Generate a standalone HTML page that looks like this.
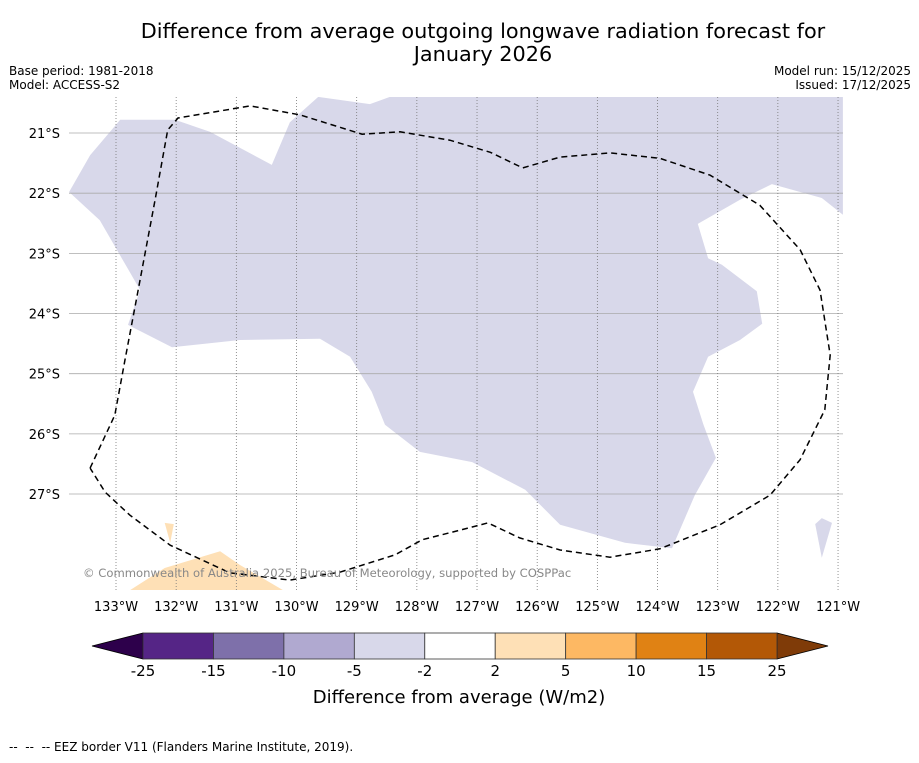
<!DOCTYPE html>
<html><head><meta charset="utf-8"><style>
body{margin:0;background:#fff;font-family:"Liberation Sans","DejaVu Sans",sans-serif}
</style></head><body>
<svg width="919" height="758" xmlns="http://www.w3.org/2000/svg" font-family="DejaVu Sans, Liberation Sans, sans-serif">
<rect width="919" height="758" fill="#fff"/>
<text x="483" y="38" font-size="20.8" text-anchor="middle">Difference from average outgoing longwave radiation forecast for</text>
<text x="483" y="61" font-size="20.8" text-anchor="middle">January 2026</text>
<text x="9" y="75" font-size="12">Base period: 1981-2018</text>
<text x="9" y="89" font-size="12">Model: ACCESS-S2</text>
<text x="911" y="75" font-size="12" text-anchor="end">Model run: 15/12/2025</text>
<text x="911" y="89" font-size="12" text-anchor="end">Issued: 17/12/2025</text>
<defs><clipPath id="mc"><rect x="69" y="97" width="774" height="493"/></clipPath></defs>
<g id="map" clip-path="url(#mc)"></g>
<g id="axes"></g>
<g id="cbar"></g>
<text x="459" y="703" font-size="18" text-anchor="middle">Difference from average (W/m2)</text>
<text x="9" y="751" font-size="12" xml:space="preserve">--  --  -- EEZ border V11 (Flanders Marine Institute, 2019).</text>
</svg>
<script>
const lonTicks=[-133,-132,-131,-130,-129,-128,-127,-126,-125,-124,-123,-122,-121];
const latTicks=[-21,-22,-23,-24,-25,-26,-27];
const negPoly=[[-133.78,-21.98],[-133.43,-21.37],[-132.93,-20.78],[-132.02,-20.78],[-131.44,-20.98],[-130.41,-21.53],[-130.11,-20.82],[-129.64,-20.40],[-128.78,-20.52],[-128.45,-20.40],[-120.92,-20.40],[-120.92,-20.62],[-120.92,-22.36],[-121.27,-22.08],[-122.10,-21.85],[-122.63,-22.11],[-123.33,-22.51],[-123.16,-23.08],[-122.93,-23.19],[-122.35,-23.63],[-122.26,-24.17],[-122.63,-24.44],[-123.16,-24.72],[-123.41,-25.30],[-123.24,-25.84],[-123.03,-26.40],[-123.38,-27.02],[-123.76,-27.90],[-124.54,-27.81],[-125.62,-27.51],[-126.20,-26.93],[-127.08,-26.47],[-127.95,-26.30],[-128.53,-25.85],[-128.75,-25.30],[-129.11,-24.72],[-129.61,-24.42],[-130.94,-24.44],[-132.07,-24.56],[-132.80,-24.19],[-132.60,-23.61],[-133.27,-22.45]];
const negIsland=[[-121.38,-27.50],[-121.27,-27.40],[-121.10,-27.48],[-121.27,-28.06]];
const posPoly=[[-132.77,-28.60],[-132.19,-28.23],[-131.27,-27.95],[-130.94,-28.18],[-130.22,-28.60]];
const posTri=[[-132.19,-27.48],[-132.04,-27.50],[-132.10,-27.81]];
const eez=[[-133.43,-26.57],[-133.02,-25.69],[-132.85,-24.77],[-132.60,-23.44],[-132.35,-22.11],[-132.14,-20.95],[-131.97,-20.75],[-130.77,-20.55],[-129.94,-20.70],[-128.91,-21.02],[-128.28,-20.98],[-127.45,-21.12],[-126.78,-21.32],[-126.24,-21.58],[-125.62,-21.40],[-124.79,-21.33],[-123.96,-21.42],[-123.13,-21.70],[-122.30,-22.20],[-121.63,-22.94],[-121.30,-23.61],[-121.13,-24.69],[-121.22,-25.60],[-121.63,-26.43],[-122.13,-27.02],[-122.96,-27.51],[-123.96,-27.91],[-124.79,-28.05],[-125.62,-27.93],[-126.29,-27.73],[-126.82,-27.48],[-127.28,-27.60],[-127.91,-27.76],[-128.36,-28.01],[-129.28,-28.30],[-130.11,-28.43],[-131.11,-28.31],[-132.10,-27.85],[-132.77,-27.35],[-133.18,-26.97],[-133.43,-26.57]];
const cbLabels=["-25","-15","-10","-5","-2","2","5","10","15","25"];
const cbColors=["#552586","#7e70aa","#b0a9d0","#d8d8ea","#ffffff","#fee0b6","#fdb863","#e08214","#b35806"];
const cbLow="#2d004b", cbHigh="#7f3b08";

const NS="http://www.w3.org/2000/svg";
const sx=lon=>116+(lon+133)*60.17;
const sy=lat=>133+(-21-lat)*60.17;
function mk(tag,attrs,parent){const e=document.createElementNS(NS,tag);for(const k in attrs)e.setAttribute(k,attrs[k]);parent.appendChild(e);return e;}
const pts=a=>a.map(p=>sx(p[0]).toFixed(1)+","+sy(p[1]).toFixed(1)).join(" ");
const map=document.getElementById("map"), axes=document.getElementById("axes"), cb=document.getElementById("cbar");

let e;
e=mk("polygon",{points:pts(negPoly),fill:"#d8d8ea"},map);


e=mk("polygon",{points:pts(negIsland),fill:"#d8d8ea"},map);


e=mk("polygon",{points:pts(posPoly),fill:"#fee0b6"},map);


e=mk("polygon",{points:pts(posTri),fill:"#fee0b6"},map);



latTicks.forEach(l=>{
  e=mk("line",{x1:69,x2:843,y1:sy(l),y2:sy(l),stroke:"#aaa","stroke-width":0.8},map);
  
  
  e=mk("text",{x:60,y:sy(l)+5,"font-size":13,"text-anchor":"end"},axes);
  e.textContent=Math.abs(l)+"°S";
  
  
});
lonTicks.forEach(l=>{
  e=mk("line",{x1:sx(l),x2:sx(l),y1:97,y2:590,stroke:"#777","stroke-width":0.8,"stroke-dasharray":"1,2"},map);
  
  
  e=mk("text",{x:sx(l),y:611,"font-size":13,"text-anchor":"middle"},axes);
  e.textContent=Math.abs(l)+"°W";
  
  
});
e=mk("polyline",{points:pts(eez),fill:"none",stroke:"#000","stroke-width":1.5,"stroke-dasharray":"6,4"},map);


e=mk("text",{x:83,y:577,"font-size":11.6,fill:"#888"},map);
e.textContent="© Commonwealth of Australia 2025, Bureau of Meteorology, supported by COSPPac";



const cx0=143,cx1=777,cy0=633,cy1=659,n=cbColors.length,w=(cx1-cx0)/n;
e=mk("polygon",{points:`${cx0},${cy0} 92,646 ${cx0},${cy1}`,fill:cbLow,stroke:"#000","stroke-width":0.8},cb);


e=mk("polygon",{points:`${cx1},${cy0} 828,646 ${cx1},${cy1}`,fill:cbHigh,stroke:"#000","stroke-width":0.8},cb);


cbColors.forEach((c,i)=>{
  e=mk("rect",{x:cx0+i*w,y:cy0,width:w,height:cy1-cy0,fill:c,stroke:"#333","stroke-width":0.8},cb);
  
  
});
cbLabels.forEach((t,i)=>{
  e=mk("text",{x:cx0+i*w,y:676,"font-size":15,"text-anchor":"middle"},cb);
  e.textContent=t;
  
  
});
</script>
</body></html>
